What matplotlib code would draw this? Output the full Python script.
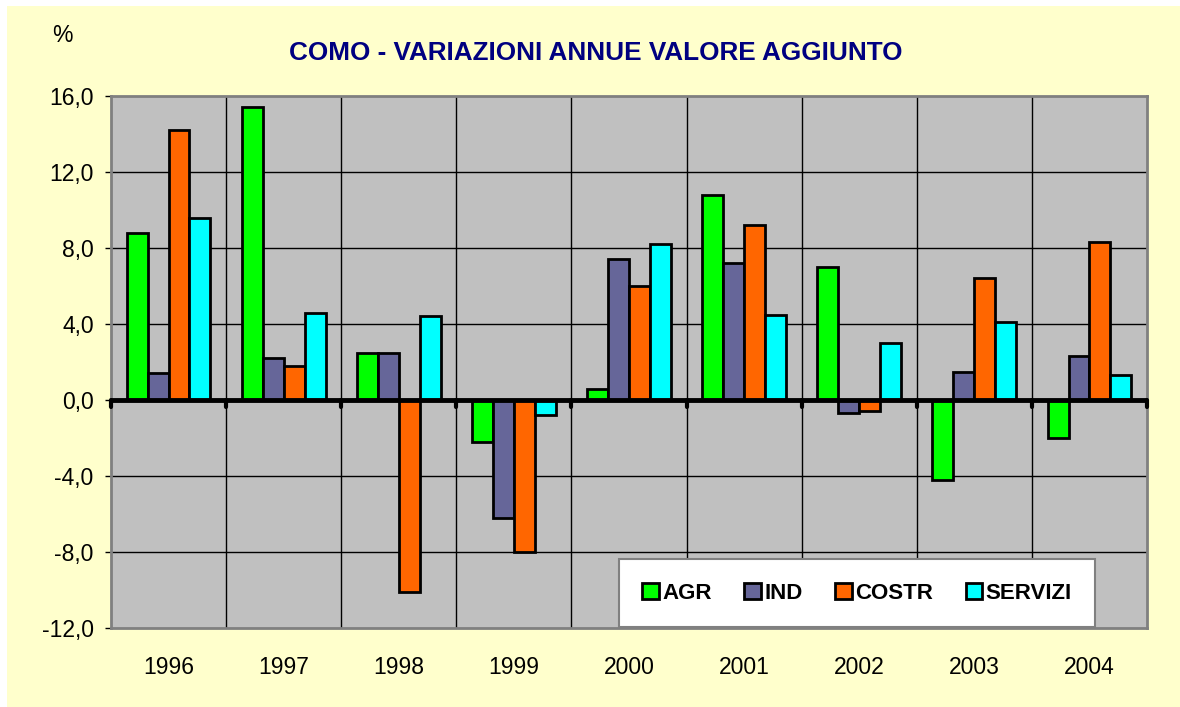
import numpy as np
import matplotlib.pyplot as plt
from matplotlib.patches import Rectangle

plt.rcParams['font.family'] = ['Liberation Sans', 'DejaVu Sans']

# ---- dati ----
anni = ['1996', '1997', '1998', '1999', '2000', '2001', '2002', '2003', '2004']
agr = [8.8, 15.4, 2.5, -2.2, 0.6, 10.8, 7.0, -4.2, -2.0]
ind = [1.4, 2.2, 2.5, -6.2, 7.4, 7.2, -0.7, 1.5, 2.3]
costr = [14.2, 1.8, -10.1, -8.0, 6.0, 9.2, -0.6, 6.4, 8.3]
servizi = [9.6, 4.6, 4.4, -0.8, 8.2, 4.5, 3.0, 4.1, 1.3]
serie = ['AGR', 'IND', 'COSTR', 'SERVIZI']
colori = ['#00FF00', '#666699', '#FF6600', '#00FFFF']
y_ticks = [-12, -8, -4, 0, 4, 8, 12, 16]

W, H = 1180, 707
fig = plt.figure(figsize=(W / 100, H / 100), dpi=100, facecolor='white')
# sfondo giallo del grafico
fig.patches.append(Rectangle((7 / W, 0), 1 - 7 / W, 1 - 6 / H, transform=fig.transFigure,
                             facecolor='#FFFFCC', edgecolor='none', zorder=-5))

ax = fig.add_axes([111 / W, 1 - 628 / H, (1147 - 111) / W, (628 - 96) / H])
ax.set_facecolor('#C0C0C0')

n = len(anni)
x = np.arange(n)
w = 1 / 5.5
dati = [agr, ind, costr, servizi]
for i, (vals, c, lab) in enumerate(zip(dati, colori, serie)):
    ax.bar(x + (i - 1.5) * w, vals, width=w, color=c, edgecolor='black',
           linewidth=2, label=lab, zorder=3)

ax.set_xlim(-0.5, n - 0.5)
ax.set_ylim(-12, 16)

# griglia
for b in np.arange(-0.5, n, 1.0)[1:-1]:
    ax.axvline(b, color='black', linewidth=1, zorder=1)
for t in y_ticks[1:-1]:
    ax.axhline(t, color='black', linewidth=1, zorder=1)

# asse dello zero spesso con tacche
ax.axhline(0, color='black', linewidth=3.5, zorder=4)
for b in np.arange(-0.5, n, 1.0):
    ax.plot([b, b], [0, -0.35], color='black', linewidth=3, zorder=4,
            solid_capstyle='round', clip_on=False)

for s in ax.spines.values():
    s.set_color('#808080')
    s.set_linewidth(2)

ax.set_yticks(y_ticks)
ax.set_yticklabels([f'{v:.1f}'.replace('.', ',') for v in y_ticks], fontsize=16.5)
ax.set_xticks(x)
ax.set_xticklabels(anni, fontsize=16.5)
ax.tick_params(axis='x', length=0, pad=20)
ax.tick_params(axis='y', length=4.5, width=1, color='black', pad=8)

fig.text(596 / W, 1 - 53 / H, 'COMO - VARIAZIONI ANNUE VALORE AGGIUNTO',
         ha='center', va='center', fontsize=18.8, fontweight='bold', color='#000080')
fig.text(62 / W, 1 - 35 / H, '%', ha='center', va='center', fontsize=16.5)

leg = ax.legend(loc='lower left', bbox_to_anchor=((619 - 111) / (1147 - 111), 1 / 532,
                                                   (1095 - 619) / (1147 - 111), 70 / 532),
                mode='expand', ncol=4, frameon=True, fancybox=False,
                prop={'weight': 'bold', 'size': 16}, handlelength=0.75, handleheight=0.75,
                handletextpad=0.15, columnspacing=1.0, borderaxespad=0, borderpad=1.05)
leg.get_frame().set_edgecolor('#808080')
leg.get_frame().set_linewidth(1.5)
leg.get_frame().set_alpha(1)
leg.set_zorder(6)

fig.savefig('out.png', dpi=100, facecolor=fig.get_facecolor())
